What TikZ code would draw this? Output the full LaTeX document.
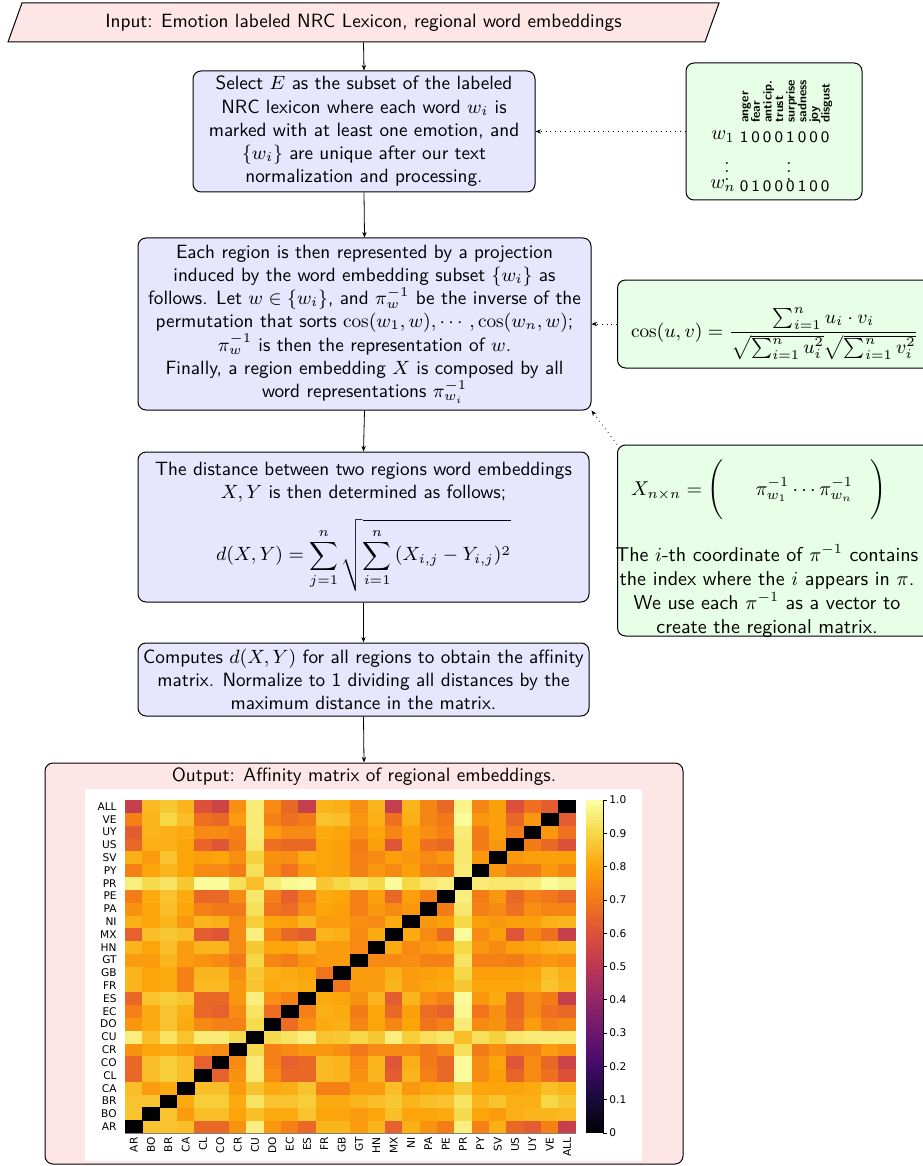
\documentclass[tikz,border=0pt]{standalone}
\usepackage{fix-cm}
\usepackage{amsmath}
\usepackage{fontspec}
\newfontfamily\mplfont{DejaVu Sans}
\usetikzlibrary{arrows.meta}
\definecolor{inf0}{HTML}{000004}
\definecolor{inf1}{HTML}{160B39}
\definecolor{inf2}{HTML}{420A68}
\definecolor{inf3}{HTML}{6A176E}
\definecolor{inf4}{HTML}{932667}
\definecolor{inf5}{HTML}{BC3754}
\definecolor{inf6}{HTML}{DD513A}
\definecolor{inf7}{HTML}{F37819}
\definecolor{inf8}{HTML}{FCA50A}
\definecolor{inf9}{HTML}{F6D746}
\definecolor{inf10}{HTML}{FCFFA4}
\definecolor{boxpink}{HTML}{FFE6E6}
\definecolor{boxblue}{HTML}{E6E6FF}
\definecolor{boxgreen}{HTML}{E6FFE6}
\newcommand\mainfs{\fontsize{9.6}{11.6}\selectfont}
\newcommand\setinf[1]{%
  \pgfmathtruncatemacro\hk{min(9,int((#1)/10))}%
  \pgfmathtruncatemacro\hp{round(((#1)-10*\hk)*10)}%
  \pgfmathtruncatemacro\hkk{\hk+1}%
  \colorlet{cellc}{inf\hkk!\hp!inf\hk}}
\def\hx{125}\def\hy{1133}\def\cw{17.335}\def\ch{12.81}
\newcommand\hmcell[3]{%
  \setinf{#3}%
  \fill[cellc] ({\hx+(#1-1)*\cw},{\hy-(#2)*\ch}) rectangle ++(\cw+0.3,\ch+0.3);}
\tikzset{
  stepbox/.style={draw, line width=0.5pt, rounded corners=4pt, fill=boxblue, align=center, font=\sffamily\mainfs, inner sep=0pt},
  notebox/.style={draw, line width=0.5pt, rounded corners=4pt, fill=boxgreen, inner sep=0pt},
  flow/.style={line width=0.4pt, -{Stealth[length=2.8pt,width=2.2pt]}},
  hint/.style={line width=0.4pt, dotted, -{Stealth[length=2.8pt,width=2.2pt]}},
  emo/.style={rotate=90, anchor=mid west, inner sep=0pt, font=\sffamily\bfseries\fontsize{6.2}{7}\selectfont},
  bit/.style={inner sep=0pt, font=\sffamily\footnotesize},
  mpl/.style={inner sep=0pt, font=\mplfont\fontsize{5.3}{6}\selectfont},
}
\begin{document}
\begin{tikzpicture}[x=0.5pt,y=-0.5pt]
\useasboundingbox (0,0) rectangle (922,1166);
% input
\node[minimum width=346pt, minimum height=19.5pt, inner sep=0pt] (input) at (363.5,22.5) {};
\fill[boxpink, draw=black, line width=0.5pt] (22,3) -- (719,3) -- (705,42) -- (8,42) -- cycle;
\node[font=\sffamily\mainfs, inner sep=0pt] (inputtxt) at (input.center) {Input: Emotion labeled NRC Lexicon, regional word embeddings};
% main steps
\node[stepbox, minimum width=171pt, minimum height=60.5pt] (sel) at (364,131.5)
 {Select $E$ as the subset of the labeled\\NRC lexicon where each word $w_i$ is\\marked with at least one emotion, and\\$\{w_i\}$ are unique after our text\\normalization and processing.};
\node[stepbox, minimum width=226.5pt, minimum height=86pt] (reg) at (364.5,324)
 {Each region is then represented by a projection\\induced by the word embedding subset $\{w_i\}$ as\\follows. Let $w\in\{w_i\}$, and $\pi_w^{-1}$ be the inverse of the\\permutation that sorts $\cos(w_1,w),\cdots,\cos(w_n,w)$;\\$\pi_w^{-1}$ is then the representation of $w$.\\Finally, a region embedding $X$ is composed by all\\word representations $\pi_{w_i}^{-1}$};
\node[stepbox, minimum width=225.5pt, minimum height=75pt] (dist) at (363.5,527)
 {The distance between two regions word embeddings\\$X,Y$ is then determined as follows;\\[7pt]$\displaystyle d(X,Y)=\sum_{j=1}^{n}\sqrt{\sum_{i=1}^{n}\,(X_{i,j}-Y_{i,j})^2}$};
\node[stepbox, minimum width=225.5pt, minimum height=36.5pt] (comp) at (363.5,679.5)
 {Computes $d(X,Y)$ for all regions to obtain the affinity\\matrix. Normalize to 1 dividing all distances by the\\maximum distance in the matrix.};
% output
\node[draw, line width=0.5pt, rounded corners=4pt, fill=boxpink, minimum width=319pt, minimum height=200.5pt] (out) at (364,963.5) {};
\node[font=\sffamily\mainfs, inner sep=0pt] (outtitle) at (364,777) {Output: Affinity matrix of regional embeddings.};
\fill[white] (85,789) rectangle (642,1161);
% side notes
\node[notebox, minimum width=88pt, minimum height=68.5pt] (lex) at (774,131.5) {};
\foreach \e [count=\i from 0] in {anger,fear,anticip.,trust,surprise,sadness,joy,disgust}
  \node[emo] (emo\i) at ({744+11.6*\i},123) {\e};
\node[inner sep=0pt] (w1) at (723,137) {$w_1$};
\node[inner sep=0pt] (wn) at (723,186) {$w_n$};
\foreach \b [count=\i from 0] in {1,0,0,0,1,0,0,0}
  \node[bit] (bA\i) at ({744+11.6*\i},137) {\b};
\foreach \b [count=\i from 0] in {0,1,0,0,0,1,0,0}
  \node[bit] (bB\i) at ({744+11.6*\i},186) {\b};
\node[inner sep=0pt, font=\small] (vd1) at (727,166) {$\vdots$};
\node[inner sep=0pt, font=\small] (vd2) at (789,166) {$\vdots$};
\node[notebox, minimum width=157pt, minimum height=44pt] (cosb) at (774.5,324) {};
\node[inner sep=0pt, font=\mainfs] (cosf) at (774.5,334)
 {$\displaystyle \cos(u,v)=\frac{\sum_{i=1}^{n}u_i\cdot v_i}{\sqrt{\sum_{i=1}^{n}u_i^2}\sqrt{\sum_{i=1}^{n}v_i^2}}$};
\node[notebox, minimum width=157pt, minimum height=95.5pt] (mat) at (774.5,540.5) {};
\node[inner sep=0pt] (matf) at (759,490)
 {$\displaystyle X_{n\times n}=\Bigg(\hspace{16pt}\pi^{-1}_{w_1}\cdots\pi^{-1}_{w_n}\hspace{9pt}\Bigg)$};
\node[inner sep=0pt, font=\sffamily, align=center] (matnote) at (767,591)
 {The $i$-th coordinate of $\pi^{-1}$ contains\\the index where the $i$ appears in $\pi$.\\We use each $\pi^{-1}$ as a vector to\\create the regional matrix.};
% connectors
\draw[flow] (input.south) -- (sel.north);
\draw[flow] (sel.south) -- (reg.north);
\draw[flow] (reg.south) -- (dist.north);
\draw[flow] (dist.south) -- (comp.north);
\draw[flow] (comp.south) -- (out.north);
\draw[hint] (lex.west) -- (sel.east);
\draw[hint] (cosb.west) -- (reg.east);
\draw[hint] (mat.north west) -- (reg.south east);
% heatmap
\foreach \r/\vals in {2/{86},
3/{86,86},
4/{85,78,81},
5/{66,85,88,85},
6/{66,85,88,85,64},
7/{76,80,81,78,76,74},
8/{96,85,93,86,95,95,91},
9/{77,81,86,81,74,72,72,91},
10/{72,81,86,82,66,64,74,93,67},
11/{66,86,88,86,66,66,77,96,75,72},
12/{83,80,81,72,84,84,77,86,81,82,81},
13/{83,80,81,72,83,83,75,87,82,81,80,69},
14/{78,78,83,78,76,74,70,90,73,71,76,78,78},
15/{83,80,85,78,83,83,74,87,80,80,83,78,78,74},
16/{64,85,87,85,63,61,74,96,73,66,63,83,82,74,81},
17/{82,80,83,77,83,82,74,88,80,79,83,78,78,75,74,81},
18/{76,80,85,80,72,70,70,92,69,67,75,80,79,72,77,74,77},
19/{71,81,86,81,66,66,74,94,72,64,72,81,80,72,79,66,79,71},
20/{96,91,93,87,99,99,92,85,95,98,99,87,90,93,90,99,90,94,96},
21/{72,80,83,80,74,74,71,92,74,69,77,80,79,72,77,74,79,72,71,95},
22/{82,78,86,80,79,80,75,89,76,75,81,80,79,72,74,79,77,74,77,94,77},
23/{66,82,82,80,65,61,71,94,68,66,66,80,79,71,79,61,79,68,66,94,71,77},
24/{63,83,82,81,74,74,72,95,78,74,74,81,80,75,80,73,79,75,72,95,71,79,71},
25/{72,83,90,85,68,66,78,95,72,68,71,86,85,77,82,68,82,73,70,99,77,79,66,77},
26/{53,84,87,83,60,55,75,95,74,66,53,83,82,75,83,53,83,73,66,97,73,79,60,68,63}}{
  \foreach \v [count=\c] in \vals {
    \hmcell{\c}{\r}{\v}
    \hmcell{\r}{\c}{\v}
  }
}
\foreach \i in {1,...,26} { \hmcell{\i}{\i}{0} }
\draw[gray, line width=0.3pt] (125,1133) -- (575.7,1133);
\foreach \lab [count=\i] in {AR,BO,BR,CA,CL,CO,CR,CU,DO,EC,ES,FR,GB,GT,HN,MX,NI,PA,PE,PR,PY,SV,US,UY,VE,ALL} {
  \node[mpl, anchor=east] (yl\i) at (117,{\hy-(\i-0.5)*\ch}) {\lab};
  \node[mpl, anchor=east, rotate=90] (xl\i) at ({\hx+(\i-0.5)*\cw},1137) {\lab};
}
% colorbar
\foreach \i in {0,...,99} {
  \setinf{\i+0.5}
  \fill[cellc] (586,{1133-(\i+1)*3.33}) rectangle (603.3,{1133-\i*3.33+0.4});
}
\draw[line width=0.4pt] (603.3,800) -- (603.3,1133);
\foreach \t/\lab in {0/0,1/0.1,2/0.2,3/0.3,4/0.4,5/0.5,6/0.6,7/0.7,8/0.8,9/0.9,10/1.0} {
  \draw[line width=0.4pt] (603.3,{1133-\t*33.3}) -- ++(4,0);
  \node[mpl, anchor=west] (cb\t) at (609,{1133-\t*33.3}) {\lab};
}
\end{tikzpicture}
\end{document}
